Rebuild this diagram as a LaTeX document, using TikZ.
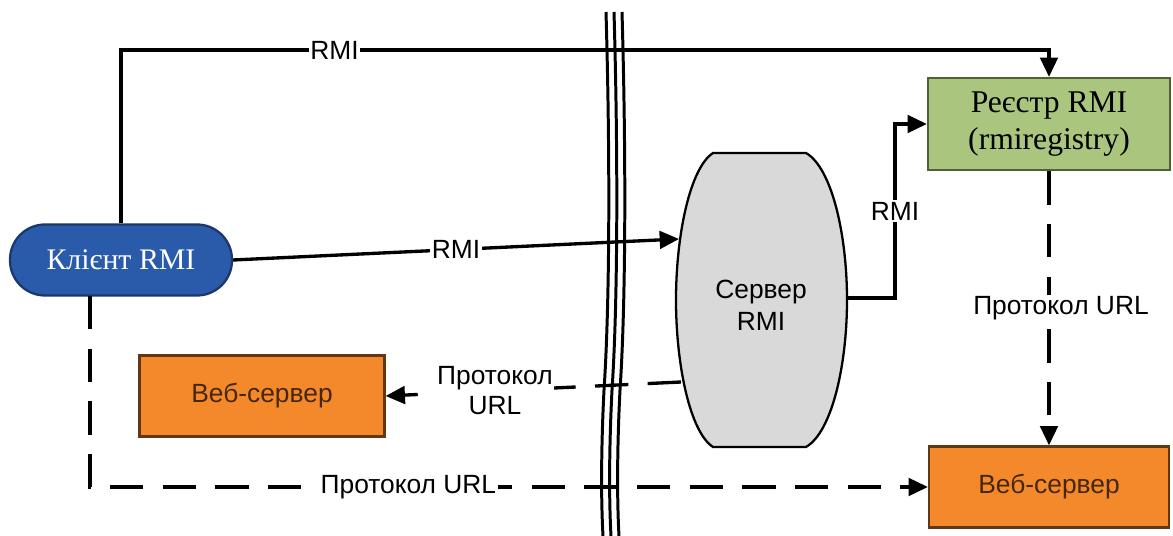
\documentclass[tikz,border=0pt]{standalone}
\usepackage{fontspec}
\setmainfont{Liberation Sans}
\newfontfamily\tmsfont{Liberation Serif}
\usetikzlibrary{arrows.meta,positioning,calc}

\definecolor{clientblue}{RGB}{42,90,170}
\definecolor{clientedge}{RGB}{28,55,105}
\definecolor{regreen}{RGB}{170,198,126}
\definecolor{regedge}{RGB}{80,95,55}
\definecolor{weborange}{RGB}{243,137,42}
\definecolor{webedge}{RGB}{100,55,20}
\definecolor{srvgray}{RGB}{217,217,217}

\tikzset{
  conn/.style={line width=1.9pt,-{Triangle[length=11pt,width=10pt]}},
  urlconn/.style={conn,dash pattern=on 19pt off 11pt},
  lbl/.style={fill=white,inner sep=1pt,font=\fontsize{15}{17}\selectfont},
  webbox/.style={draw=webedge,line width=1.3pt,fill=weborange,minimum width=4.9cm,
    minimum height=1.62cm,font=\fontsize{15}{17}\selectfont,text=webedge!70!black},
}

\begin{document}
\begin{tikzpicture}[x=0.02cm,y=-0.02cm]
  \useasboundingbox (0,0) rectangle (1173,536);

  % the wall between the two hosts
  \foreach \dx in {-8,0,8}
    \draw[line width=1.7pt,xshift=\dx*0.02cm]
      (614,12) .. controls (618,150) and (618,300) .. (612,390)
      .. controls (609,450) and (609,500) .. (611,536);

  % nodes
  \node[draw=clientedge,line width=1.3pt,fill=clientblue,rounded corners=0.7cm,
    minimum width=4.44cm,minimum height=1.42cm,text=white,
    font=\tmsfont\fontsize{17}{19}\selectfont] (cli) at (121,260) {Клієнт RMI};
  \node[draw=regedge,line width=1.3pt,fill=regreen,minimum width=4.84cm,minimum height=1.84cm,
    align=center,font=\tmsfont\fontsize{18}{21}\selectfont] (reg) at (1049,124)
    {Реєстр RMI\\(rmiregistry)};
  \node[webbox] (webl) at (262,396) {Веб-сервер};
  \node[webbox,minimum width=4.8cm] (webr) at (1049,487) {Веб-сервер};

  % server (barrel)
  \draw[fill=srvgray,line width=1.3pt]
    (713,153) -- (806,153) .. controls (832,168) and (847,235) .. (847,300)
    .. controls (847,365) and (832,432) .. (806,447) -- (713,447)
    .. controls (690,432) and (676,365) .. (676,300)
    .. controls (676,235) and (690,168) .. (713,153) -- cycle;
  \node[align=center,font=\fontsize{15}{18}\selectfont] (srv) at (761,305) {Сервер\\RMI};
  \coordinate (srvin) at (679,239);
  \coordinate (srvout) at (847,298);
  \coordinate (srvurl) at (681,382);

  % connectors
  \coordinate (topbend) at (1049,50);
  \coordinate (rbend) at (895,124);
  \coordinate (cbot) at (90,296);
  \draw[conn] (cli.north) |- node[lbl,pos=0.615]{RMI} (topbend) -- (reg.north);
  \draw[conn] (cli.east) -- node[lbl]{RMI} (srvin);
  \draw[conn] (srvout) -| node[lbl,pos=0.75]{RMI} (rbend) -- (reg.west);
  \draw[urlconn] (reg.south) -- node[lbl,xshift=0.24cm]{Протокол URL} (webr.north);
  \draw[urlconn] (srvurl) -- node[lbl,pos=0.63,align=center]{Протокол\\URL} (webl.east);
  \draw[urlconn] (cbot) |- node[lbl,pos=0.69]{Протокол URL} (webr.west);
\end{tikzpicture}
\end{document}
